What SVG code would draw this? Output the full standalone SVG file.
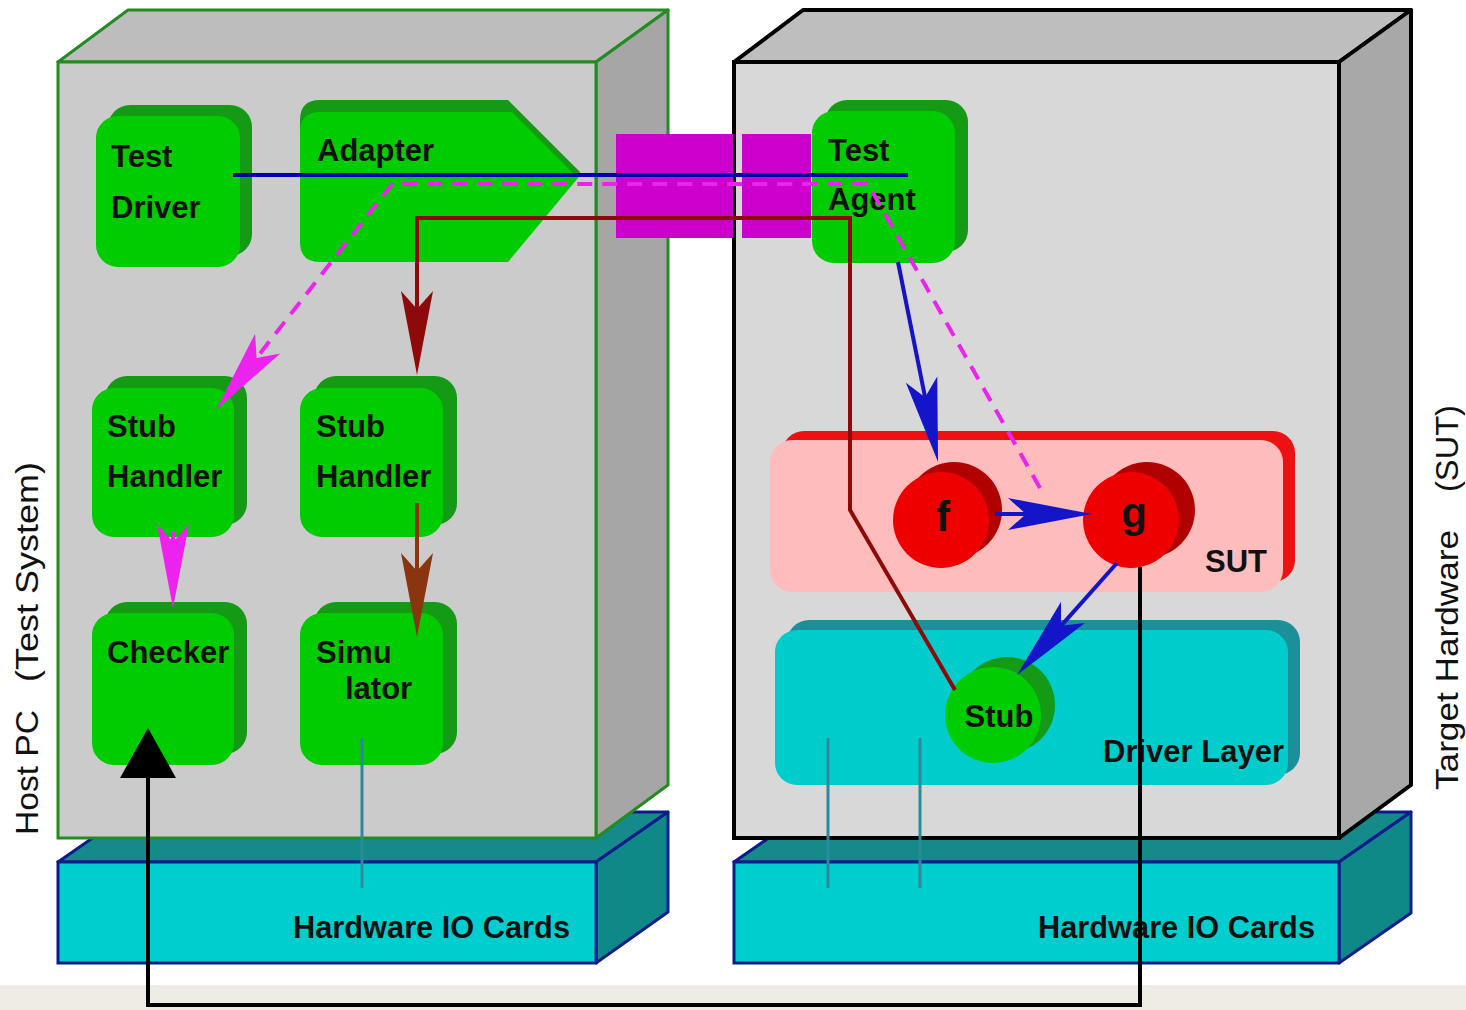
<svg xmlns="http://www.w3.org/2000/svg" width="1466" height="1010" viewBox="0 0 1466 1010">
<style>
.lbl{font-family:"Liberation Sans",Arial,sans-serif;font-weight:bold;font-size:31px;fill:#111}
.vt{font-family:"Liberation Sans",Arial,sans-serif;font-size:31px;fill:#111}
.nf{fill:#00cc00}
.ns{fill:#149a14}
.hwtop{fill:#148a8a;stroke:#0c1c8c;stroke-width:3;stroke-linejoin:round}
.hwside{fill:#0f8888;stroke:#0c1c8c;stroke-width:3;stroke-linejoin:round}
.hwfront{fill:#00cece;stroke:#0c1c8c;stroke-width:3}
.ln{fill:none;stroke-width:4;stroke-linejoin:miter}
.teal{fill:none;stroke:#2a8a9a;stroke-width:3}
</style>
<defs>
<marker id="ah-blue" viewBox="-86 -18 90 36" markerWidth="90" markerHeight="36" refX="-66" refY="0" orient="auto" markerUnits="userSpaceOnUse" overflow="visible"><path d="M0,0 L-84,-16 L-66,0 L-84,16 Z" fill="#1414c8"/></marker>
<marker id="ah-red" viewBox="-86 -18 90 36" markerWidth="90" markerHeight="36" refX="-66" refY="0" orient="auto" markerUnits="userSpaceOnUse" overflow="visible"><path d="M0,0 L-84,-16 L-66,0 L-84,16 Z" fill="#8e0a0a"/></marker>
<marker id="ah-brown" viewBox="-86 -18 90 36" markerWidth="90" markerHeight="36" refX="-66" refY="0" orient="auto" markerUnits="userSpaceOnUse" overflow="visible"><path d="M0,0 L-84,-16 L-66,0 L-84,16 Z" fill="#8b3410"/></marker>
<marker id="ah-mag" viewBox="-86 -18 90 36" markerWidth="90" markerHeight="36" refX="-66" refY="0" orient="auto" markerUnits="userSpaceOnUse" overflow="visible"><path d="M0,0 L-84,-16 L-66,0 L-84,16 Z" fill="#ee22ee"/></marker>
<marker id="ah-black" viewBox="-52 -30 54 60" markerWidth="54" markerHeight="60" refX="-50" refY="0" orient="auto" markerUnits="userSpaceOnUse" overflow="visible"><path d="M0,0 L-50,-28 L-50,28 Z" fill="#000"/></marker>
</defs>

<rect x="0" y="0" width="1466" height="1010" fill="#ffffff"/>
<rect x="0" y="985" width="1466" height="25" fill="#eeece4"/>

<g id="host-pc">
  <polygon class="hwtop" points="58,862 130,812 668,812 596,862"/>
  <polygon class="hwside" points="596,862 668,812 668,912 596,963"/>
  <rect class="hwfront" x="58" y="862" width="538" height="101"/>
  <text class="lbl" x="293" y="938" textLength="277" lengthAdjust="spacingAndGlyphs">Hardware IO Cards</text>
  <polygon points="58,62 128,10 668,10 596,62" fill="#bdbdbd" stroke="#228b22" stroke-width="3" stroke-linejoin="round"/>
  <polygon points="596,62 668,10 668,785 596,838" fill="#a6a6a6" stroke="#228b22" stroke-width="3" stroke-linejoin="round"/>
  <rect x="58" y="62" width="538" height="776" fill="#cbcbcb" stroke="#228b22" stroke-width="3"/>
  <text class="vt" transform="translate(38,835) rotate(-90)"><tspan x="0" y="0" textLength="125" lengthAdjust="spacingAndGlyphs">Host PC</tspan><tspan x="153" y="0" textLength="220" lengthAdjust="spacingAndGlyphs">(Test System)</tspan></text>
</g>

<g id="target-hw">
  <polygon class="hwtop" points="734,862 806,812 1411,812 1339,862"/>
  <polygon class="hwside" points="1339,862 1411,812 1411,913 1339,963"/>
  <rect class="hwfront" x="734" y="862" width="605" height="101"/>
  <text class="lbl" x="1038" y="938" textLength="277" lengthAdjust="spacingAndGlyphs">Hardware IO Cards</text>
  <polygon points="734,62 803,10 1411,10 1339,62" fill="#bebebe" stroke="#000" stroke-width="4" stroke-linejoin="round"/>
  <polygon points="1339,62 1411,10 1411,785 1339,838" fill="#a8a8a8" stroke="#000" stroke-width="4" stroke-linejoin="round"/>
  <rect x="734" y="62" width="605" height="776" fill="#d8d8d8" stroke="#000" stroke-width="4"/>
  <text class="vt" transform="translate(1458,790) rotate(-90)"><tspan x="0" y="0" textLength="260" lengthAdjust="spacingAndGlyphs">Target Hardware</tspan><tspan x="298" y="0" textLength="87" lengthAdjust="spacingAndGlyphs">(SUT)</tspan></text>
</g>

<g id="link">
  <rect x="616" y="134" width="117" height="104" fill="#cc00cc"/>
  <rect x="742" y="134" width="69" height="104" fill="#cc00cc"/>
</g>

<g id="test-driver">
  <rect class="ns" x="108" y="105" width="144" height="151" rx="22"/>
  <rect class="nf" x="96" y="116" width="144" height="151" rx="22"/>
  <text class="lbl" x="111" y="167">Test</text>
  <text class="lbl" x="111" y="218">Driver</text>
</g>

<g id="adapter">
  <path class="ns" d="M320,100 H508 L580,172 L578,178 L300,178 V120 Q300,100 320,100 Z"/>
  <path class="nf" d="M320,112 H512 L578,178 L508,262 H320 Q300,262 300,242 V132 Q300,112 320,112 Z"/>
  <text class="lbl" x="317" y="161">Adapter</text>
</g>

<g id="test-agent">
  <rect class="ns" x="825" y="100" width="143" height="152" rx="22"/>
  <rect class="nf" x="812" y="111" width="143" height="152" rx="22"/>
  <text class="lbl" x="828" y="161">Test</text>
  <text class="lbl" x="828" y="210">Agent</text>
</g>

<g id="stub-handler-1">
  <rect class="ns" x="105" y="376" width="142" height="149" rx="22"/>
  <rect class="nf" x="92" y="388" width="142" height="149" rx="22"/>
  <text class="lbl" x="107" y="437">Stub</text>
  <text class="lbl" x="107" y="487">Handler</text>
</g>

<g id="stub-handler-2">
  <rect class="ns" x="314" y="376" width="143" height="149" rx="22"/>
  <rect class="nf" x="300" y="388" width="143" height="149" rx="22"/>
  <text class="lbl" x="316" y="437">Stub</text>
  <text class="lbl" x="316" y="487">Handler</text>
</g>

<g id="checker">
  <rect class="ns" x="105" y="602" width="142" height="152" rx="22"/>
  <rect class="nf" x="92" y="613" width="142" height="152" rx="22"/>
  <text class="lbl" x="107" y="663">Checker</text>
</g>

<g id="simulator">
  <rect class="ns" x="314" y="602" width="143" height="152" rx="22"/>
  <rect class="nf" x="300" y="613" width="143" height="152" rx="22"/>
  <text class="lbl" x="316" y="663">Simu</text>
  <text class="lbl" x="345" y="699">lator</text>
</g>

<g id="sut">
  <rect x="782" y="431" width="513" height="151" rx="22" fill="#ee1111"/>
  <rect x="770" y="440" width="513" height="152" rx="22" fill="#ffbcbc"/>
  <text class="lbl" x="1205" y="572">SUT</text>
</g>

<g id="driver-layer">
  <rect x="787" y="620" width="513" height="155" rx="22" fill="#1b9098"/>
  <rect x="775" y="630" width="513" height="155" rx="22" fill="#00cccc"/>
  <text class="lbl" x="1103" y="762">Driver Layer</text>
</g>

<g id="f">
  <circle cx="954" cy="510" r="48" fill="#b00000"/>
  <circle cx="941" cy="520" r="48" fill="#ee0000"/>
  <text class="lbl" x="943" y="531" text-anchor="middle" style="font-size:42px">f</text>
</g>

<g id="g">
  <circle cx="1147" cy="510" r="48" fill="#b00000"/>
  <circle cx="1131" cy="520" r="48" fill="#ee0000"/>
  <text class="lbl" x="1134" y="527" text-anchor="middle" style="font-size:42px">g</text>
</g>

<g id="stub">
  <circle cx="1007" cy="705" r="48" fill="#149a14"/>
  <circle cx="993" cy="715" r="48" fill="#00cc00"/>
  <text class="lbl" x="999" y="727" text-anchor="middle">Stub</text>
</g>

<g id="connectors">
  <path class="teal" d="M362,738 V888"/>
  <path class="teal" d="M828,738 V888"/>
  <path class="teal" d="M920,738 V888"/>
  <path class="ln" stroke="#0000aa" d="M233,175 L908,175"/>
  <path class="ln" stroke="#ee22ee" stroke-width="5" stroke-dasharray="15,10" d="M1040,488 L868,184 L392,184 L256.6,357.9" marker-end="url(#ah-mag)"/>
  <path class="ln" stroke="#8e0a0a" d="M955,690 L850,510 L850,218 L417,218 L417,309" marker-end="url(#ah-red)"/>
  <path class="ln" stroke="#8b3410" d="M417,503 L417,571" marker-end="url(#ah-brown)"/>
  <path class="ln" stroke="#ee22ee" d="M173,532 L173,542" marker-end="url(#ah-mag)"/>
  <path class="ln" stroke="#1414c8" d="M898,262 L925.1,397.3" marker-end="url(#ah-blue)"/>
  <path class="ln" stroke="#1414c8" d="M995,514 L1026,514" marker-end="url(#ah-blue)"/>
  <path class="ln" stroke="#1414c8" d="M1117,563 L1061,625.8" marker-end="url(#ah-blue)"/>
  <path class="ln" stroke="#000" d="M1140,567 L1140,1005 L148,1005 L148,778" marker-end="url(#ah-black)"/>
</g>
</svg>
